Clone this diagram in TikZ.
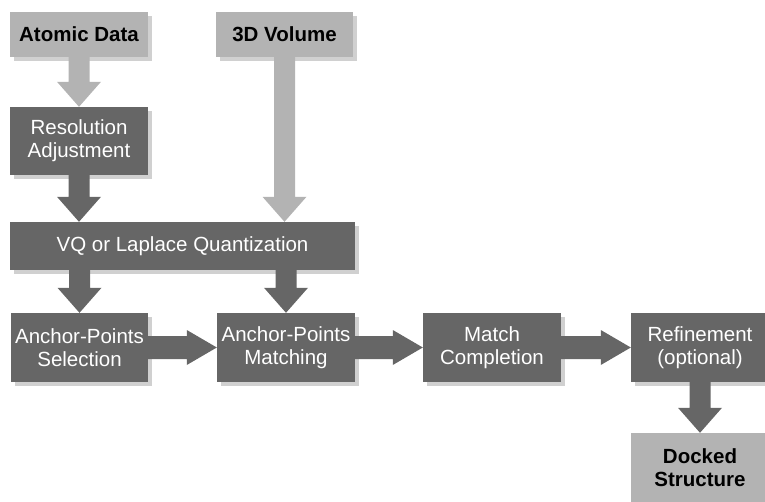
\documentclass[tikz,border=0pt]{standalone}
\usepackage{fontspec}
\setmainfont{Liberation Sans}
\usetikzlibrary{calc,shadows}
\definecolor{darkbox}{HTML}{666666}
\definecolor{lightbox}{HTML}{B3B3B3}
\definecolor{shadowgray}{HTML}{D0D0D0}
\tikzset{
  basebox/.style={rectangle, inner sep=0pt, align=center,
    font=\fontsize{20.5}{23}\selectfont,
    drop shadow={shadow xshift=4pt, shadow yshift=-4pt, fill=shadowgray, opacity=1}},
  darkstep/.style={basebox, fill=darkbox, text=white, minimum width=138pt},
  lightstep/.style={basebox, fill=lightbox, text=black, minimum width=138pt,
    font=\fontsize{20.5}{23}\selectfont\bfseries},
}
\newcommand{\vfat}[3]{\fill[#1] let \p1=(#2), \p2=(#3) in
  (\x1-10.5,\y1) -- (\x1+10.5,\y1) -- (\x1+10.5,\y2+25) -- (\x1+22,\y2+25) --
  (\x1,\y2) -- (\x1-22,\y2+25) -- (\x1-10.5,\y2+25) -- cycle;}
\newcommand{\hfat}[3]{\fill[#1] let \p1=(#2), \p2=(#3) in
  (\x1,\y1-11.5) -- (\x2-30,\y1-11.5) -- (\x2-30,\y1-17.5) -- (\x2,\y1) --
  (\x2-30,\y1+17.5) -- (\x2-30,\y1+11.5) -- (\x1,\y1+11.5) -- cycle;}
\begin{document}
\begin{tikzpicture}[x=1pt,y=1pt]
\useasboundingbox (0,0) rectangle (765,501);
\clip (0,0) rectangle (765,501);
\node[lightstep, minimum height=45pt] (atom) at (79,466.5) {Atomic Data};
\node[lightstep, minimum width=137pt, minimum height=45pt] (vol) at (284.5,466.5) {3D Volume};
\node[darkstep, minimum height=68pt] (res) at (79,360) {Resolution\\Adjustment};
\node[darkstep, minimum width=345pt, minimum height=48pt] (vq) at (182.5,255) {VQ or Laplace Quantization};
\node[darkstep, minimum width=137pt, minimum height=69pt] (aps) at (79.5,153.5) {Anchor-Points\\Selection};
\node[darkstep, minimum height=69pt] (apm) at (286,153.5) {Anchor-Points\\Matching};
\node[darkstep, minimum height=69pt] (mc) at (492,153.5) {Match\\Completion};
\node[darkstep, minimum height=69pt] (ref) at (700,153.5) {Refinement\\(optional)};
\node[lightstep, minimum height=69pt] (dock) at (700,33.5) {Docked\\Structure};
\vfat{lightbox}{atom.south}{res.north}
\vfat{lightbox}{vol.south}{vq.north}
\vfat{darkbox}{res.south}{vq.north}
\vfat{darkbox}{vq.south -| aps.north}{aps.north}
\vfat{darkbox}{vq.south -| apm.north}{apm.north}
\vfat{darkbox}{ref.south}{dock.north}
\hfat{darkbox}{aps.east}{apm.west}
\hfat{darkbox}{apm.east}{mc.west}
\hfat{darkbox}{mc.east}{ref.west}
\end{tikzpicture}
\end{document}
